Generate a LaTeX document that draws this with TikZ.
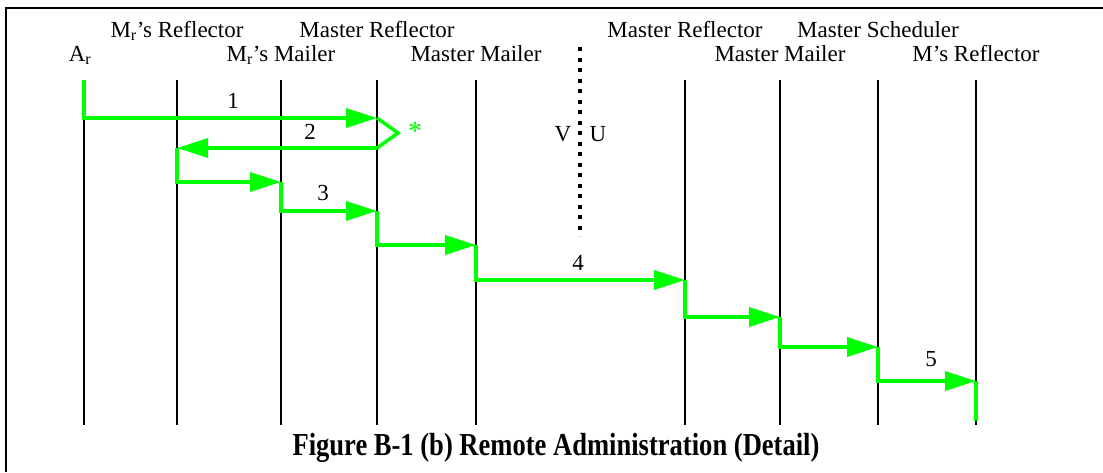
\documentclass[tikz,border=0pt]{standalone}
\usepackage{fontspec}
\setmainfont{Liberation Serif}
\usetikzlibrary{arrows.meta}
\definecolor{msggreen}{RGB}{0,255,0}
\tikzset{
  lbl/.style={font=\fontsize{23}{26}\selectfont, inner sep=0pt, anchor=base},
  lifeline/.style={line width=1.8pt, black},
  msg/.style={line width=3.5pt, msggreen, miter limit=20,
    -{Triangle[length=31pt,width=19pt]}},
  msgline/.style={line width=3.5pt, msggreen, miter limit=20},
  frameline/.style={line width=2pt, black}
}
\begin{document}
\begin{tikzpicture}[x=1pt,y=-1pt]
\useasboundingbox (0,0) rectangle (1103,472);

% frame: top and left rules
\draw[frameline] (5,8) -- (1103,8);
\draw[frameline] (6,7) -- (6,472);

% lifeline tops and bottoms
\foreach \n/\x in {ar/84, mrr/177, mrm/281, mr/377, mm/476, mr2/685, mm2/780, ms/878, msr/976} {
  \coordinate (\n-t) at (\x,80);
  \coordinate (\n-b) at (\x,425);
}
\foreach \n in {ar, mrr, mrm, mr, mm, mr2, mm2, msr}
  \draw[lifeline] (\n-t) -- (\n-b);
\draw[lifeline, line width=1.3pt] (ms-t) -- (ms-b);

% lifeline headings
\node[lbl] (h-mrr) at (177,37) {M\textsubscript{r}’s Reflector};
\node[lbl] (h-mr)  at (377,37) {Master Reflector};
\node[lbl] (h-mr2) at (685,37) {Master Reflector};
\node[lbl] (h-ms)  at (878,37) {Master Scheduler};
\node[lbl] (h-ar)  at (80,61) {A\textsubscript{r}};
\node[lbl] (h-mrm) at (281,61) {M\textsubscript{r}’s Mailer};
\node[lbl] (h-mm)  at (476,61) {Master Mailer};
\node[lbl] (h-mm2) at (780,61) {Master Mailer};
\node[lbl] (h-msr) at (976,61) {M’s Reflector};

% domain boundary
\coordinate (vu-t) at (580,47);
\coordinate (vu-b) at (580,236);
\draw[line width=3.6pt, dash pattern=on 4pt off 6.5pt] (vu-t) -- (vu-b);
\node[lbl] (v) at (563,141) {V};
\node[lbl] (u) at (598,141) {U};

% message route points
\coordinate (p0) at (84,80);
\coordinate (p1) at (377,118);
\coordinate (pk) at (398,133);
\coordinate (p2s) at (377,148);
\coordinate (p2) at (177,148);
\coordinate (p3) at (281,182);
\coordinate (p4) at (377,211);
\coordinate (p5) at (476,245);
\coordinate (p6) at (685,280);
\coordinate (p7) at (780,317);
\coordinate (p8) at (878,347);
\coordinate (p9) at (976,381);
\coordinate (pe) at (976,421);

\draw[msg] (p0) |- (p1);
\draw[msgline] (p1) -- (pk) -- (p2s);
\draw[msg] (p2s) -- (p2);
\draw[msg] (p2) |- (p3);
\draw[msg] (p3) |- (p4);
\draw[msg] (p4) |- (p5);
\draw[msg] (p5) |- (p6);
\draw[msg] (p6) |- (p7);
\draw[msg] (p7) |- (p8);
\draw[msg] (p8) |- (p9);
\draw[msgline] (p9) -- (pe);

% step numbers
\node[lbl] (n1) at (233,108) {1};
\node[lbl] (n2) at (310,139) {2};
\node[lbl] (n3) at (323,200) {3};
\node[lbl] (n4) at (578,270) {4};
\node[lbl] (n5) at (931,366) {5};
\node[lbl, text=msggreen, font=\fontsize{28}{30}\selectfont] (star) at (415,140) {*};

% caption
\node[inner sep=0pt, anchor=base] (cap) at (556,455)
  {\scalebox{0.83}[1]{\fontsize{32}{36}\selectfont\bfseries Figure B-1 (b) Remote Administration (Detail)}};
\end{tikzpicture}
\end{document}
